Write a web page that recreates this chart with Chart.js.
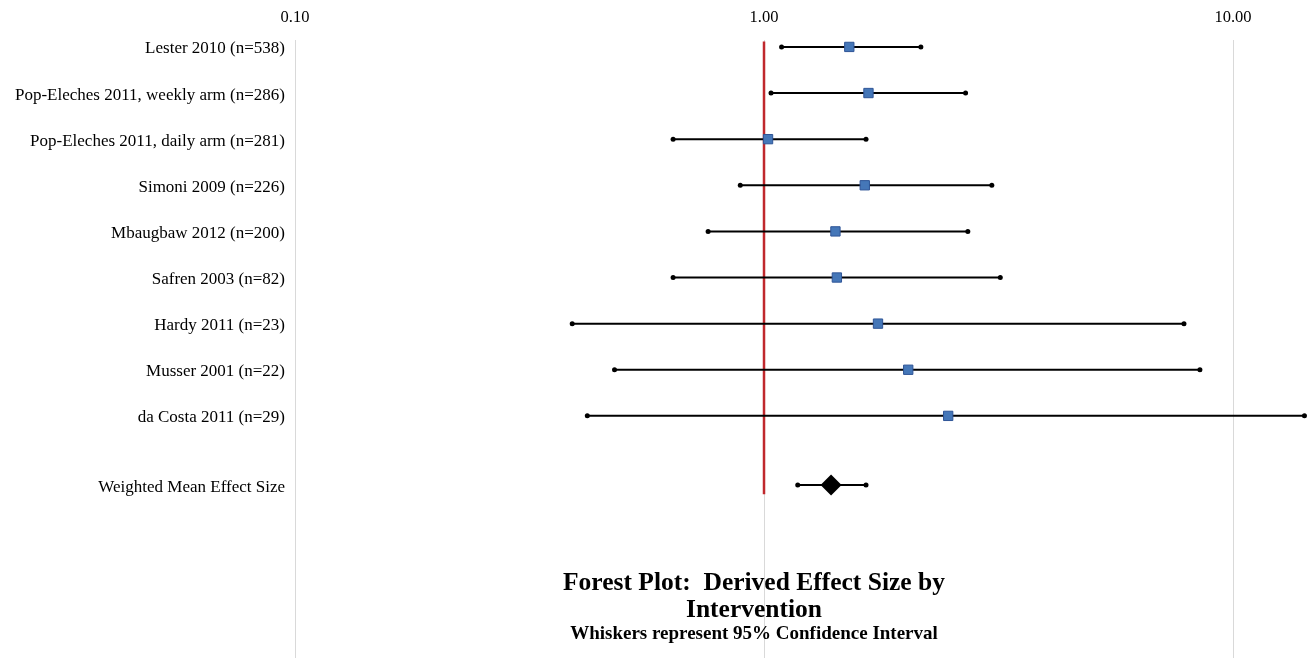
<!DOCTYPE html>
<html>
<head>
<meta charset="utf-8">
<script src="https://cdn.jsdelivr.net/npm/chart.js@4.4.1/dist/chart.umd.min.js"></script>
<style>
  html, body { margin: 0; padding: 0; background: #fff; }
  #wrap { position: relative; width: 1308px; height: 658px; }
  #title {
    position: absolute; left: 504px; width: 500px; top: 568px;
    text-align: center; font-family: "Liberation Serif", serif; font-weight: bold;
    color: #000; pointer-events: none;
  }
  #title .main { font-size: 25.5px; line-height: 27px; white-space: pre; }
  #title .sub { font-size: 19px; line-height: 22px; }
</style>
</head>
<body>
<div id="wrap">
  <canvas id="chart" width="1308" height="658"></canvas>
  <div id="title">
    <div class="main">Forest Plot:  Derived Effect Size by
Intervention</div>
    <div class="sub">Whiskers represent 95% Confidence Interval</div>
  </div>
</div>
<script>
const studies = [
  "Lester 2010 (n=538)",
  "Pop-Eleches 2011, weekly arm (n=286)",
  "Pop-Eleches 2011, daily arm (n=281)",
  "Simoni 2009 (n=226)",
  "Mbaugbaw 2012 (n=200)",
  "Safren 2003 (n=82)",
  "Hardy 2011 (n=23)",
  "Musser 2001 (n=22)",
  "da Costa 2011 (n=29)",
];
const effect = [1.52, 1.67, 1.02, 1.64, 1.42, 1.43, 1.75, 2.03, 2.47];
const lower = [1.09, 1.035, 0.64, 0.89, 0.76, 0.64, 0.39, 0.48, 0.42];
const upper = [2.16, 2.69, 1.65, 3.06, 2.72, 3.19, 7.86, 8.5, 14.2];

const meanLabel = "Weighted Mean Effect Size";
const meanEffect = 1.39;
const meanLower = 1.18;
const meanUpper = 1.65;

const xTicks = [0.1, 1, 10];

// row index on the y axis, the summary row sits half a row lower
const rowPos = studies.map((_, i) => i);
const meanPos = studies.length + 0.5;
const allLabels = [...studies, meanLabel];
const allPos = [...rowPos, meanPos];

const whisker = (lo, hi, y) => ({
  type: "scatter",
  showLine: true,
  data: [{ x: lo, y }, { x: hi, y }],
  borderColor: "#000",
  borderWidth: 2,
  pointRadius: 2.5,
  pointBackgroundColor: "#000",
  pointBorderWidth: 0,
  clip: false,
});

new Chart(document.getElementById("chart"), {
  type: "scatter",
  data: {
    datasets: [
      {
        data: effect.map((v, i) => ({ x: v, y: rowPos[i] })),
        pointStyle: "rect",
        pointRadius: 6.6,
        backgroundColor: "#4577b8",
        borderColor: "#2f5597",
        borderWidth: 1,
        clip: false,
      },
      {
        data: [{ x: meanEffect, y: meanPos }],
        pointStyle: "rectRot",
        pointRadius: 10.5,
        backgroundColor: "#000",
        borderWidth: 0,
        clip: false,
      },
      ...effect.map((_, i) => whisker(lower[i], upper[i], rowPos[i])),
      whisker(meanLower, meanUpper, meanPos),
      {
        type: "scatter",
        showLine: true,
        data: [{ x: 1, y: -0.12 }, { x: 1, y: 9.7 }],
        borderColor: "#c0282d",
        borderWidth: 2.5,
        pointRadius: 0,
      },
    ],
  },
  options: {
    responsive: false,
    animation: false,
    layout: { padding: 0, autoPadding: false },
    plugins: { legend: { display: false }, tooltip: { enabled: false } },
    scales: {
      x: {
        type: "logarithmic",
        position: "top",
        min: 0.1,
        max: 14.45,
        afterBuildTicks: (s) => { s.ticks = xTicks.map((v) => ({ value: v })); },
        afterFit: (s) => {
          s.height = 40;
          s.paddingLeft = 0;
          s.paddingRight = 0;
        },
        ticks: {
          callback: (v) => Number(v).toFixed(2),
          font: { family: "Liberation Serif", size: 16.5 },
          color: "#000",
          padding: 12,
          maxRotation: 0,
        },
        grid: { color: "#d9d9d9", lineWidth: 1, drawTicks: false },
        border: { display: false },
      },
      y: {
        type: "linear",
        reverse: true,
        min: -0.15,
        max: 13.25,
        afterBuildTicks: (s) => { s.ticks = allPos.map((v) => ({ value: v })); },
        afterFit: (s) => {
          s.width = 295;
          s.paddingTop = 0;
          s.paddingBottom = 0;
        },
        ticks: {
          callback: (v, i) => allLabels[i],
          font: { family: "Liberation Serif", size: 17 },
          color: "#000",
          padding: 10,
          labelOffset: 2,
        },
        grid: { display: false, drawTicks: false },
        border: { display: false },
      },
    },
  },
});
</script>
</body>
</html>
